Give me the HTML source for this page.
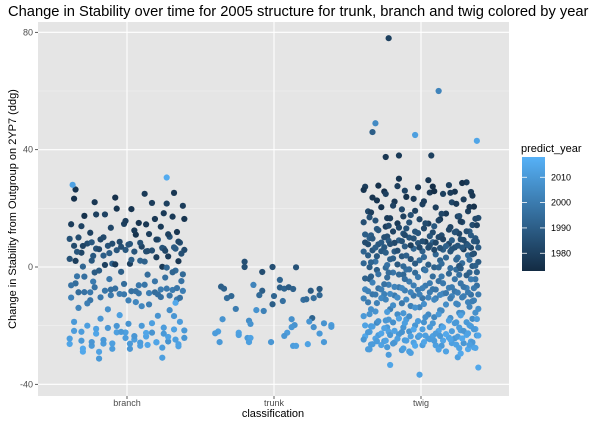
<!DOCTYPE html>
<html><head><meta charset="utf-8"><style>
html,body{margin:0;padding:0;background:#fff;}
svg{display:block;font-family:"Liberation Sans",Arial,sans-serif;}
</style></head><body>
<svg id="chart" width="601" height="424" viewBox="0 0 601 424">
<text x="8" y="16" font-size="14.7" fill="#000">Change in Stability over time for 2005 structure for trunk, branch and twig colored by year</text>
<rect x="38" y="22" width="471" height="374" fill="#e5e5e5"/>
<g id="grid"></g>
<g id="pts"></g>
<g id="axes"></g>
<text x="0" y="0" transform="translate(16,209) rotate(-90)" text-anchor="middle" font-size="11" fill="#000">Change in Stability from Outgroup on 2YP7 (ddg)</text>
<text x="273" y="417" text-anchor="middle" font-size="11" fill="#000">classification</text>
<g id="legend">
<text x="521" y="152" font-size="11" fill="#000">predict_year</text>
<defs><linearGradient id="cb" x1="0" y1="1" x2="0" y2="0"><stop offset="0" stop-color="#132B43"/><stop offset="1" stop-color="#56B1F7"/></linearGradient></defs>
<rect x="522" y="157" width="23" height="114" fill="url(#cb)"/>
</g>
</svg>
<script>
const categories = ["branch","trunk","twig"];
const yTicks = [-40,0,40,80];
const yMinor = [-20,20,60];
const legendYears = [1980,1990,2000,2010];
const yearMin = 1973, yearMax = 2018;
const jitter = [-0.35,0.12,-0.08,0.27,-0.22,0.38,0.03,-0.15,0.31,-0.29,0.19,-0.02,0.08,-0.38,0.23,-0.11,0.34,-0.25,0.06,0.15,-0.33,0.29,-0.05,0.21,-0.18,0.36,0.01,-0.27,0.10,-0.13,0.32,-0.36,0.17,-0.07,0.25,-0.21,0.39,-0.01,0.13,-0.31,0.05,0.28,-0.16,-0.39,0.20,0.09,-0.24,0.35,-0.10,0.02,-0.30,0.24,-0.19,0.33,-0.04,0.14,-0.34,0.26,-0.12,0.37,-0.23];

const branchY = [26,25,24,22,22,21,20,18,17,17,16,15,15,15,14,13,12,12,11,11,
10,10,9,9,9,8,8,8,7,7,7,7,6,6,6,6,6,6,5,5,5,4,4,3,3,2,2,2,1,1,0,0,-1,-1,-2,
-3,-3,-4,-4,-5,-5,-6,-6,-7,-7,-7,-8,-8,-8,-8,-9,-9,-9,-9,-10,-10,-10,-11,-11,-12,-13,-14,-15,-16,-17,
-18,-19,-19,-20,-20,-21,-21,-22,-22,-22,-23,-23,-24,-24,-24,-25,-25,-25,-26,-26,-26,-27,-27,-27,-28,-28,-29,-31,-31,-12];
const branchYear = [1976,1978,1975,1980,1977,1979,1976,1981,1978,1975,1977,1980,1976,1979,1978,1982,1977,1980,1976,1979,
1984,1986,1983,1988,1982,1985,1987,1984,1981,1986,1989,1983,1985,1987,1984,1986,1983,1988,1985,1982,1987,1978,1990,1986,1979,1992,1988,1977,1991,1980,1993,1978,1989,1994,1990,
1995,1998,1996,1999,1997,2000,1995,1998,1996,1999,1997,2001,1996,1998,2000,1997,1995,1999,1998,2002,1996,1999,2000,1998,2004,2001,2003,2006,2012,2008,
2009,2011,2008,2012,2010,2009,2013,2011,2008,2012,2010,2014,2009,2011,2013,2010,2012,2008,2011,2014,2009,2012,2010,2013,2011,2009,2015,2012,2010,2015];
const branchY2 = [25.5,23.5,21.5,19.5,18.5,17.5,16.5,15.5,14.5,13.5,12.5,11.5,
10.5,9.5,9.5,8.5,8.5,8.5,7.5,7.5,7.5,6.5,6.5,6.5,6.5,5.5,5.5,5.5,4.5,4.5,
3.5,2.5,1.5,0.5,-0.5,-1.5,-2.5,2.5,0.5,-1.5,
-3.5,-4.5,-5.5,-6.5,-6.5,-7.5,-7.5,-7.5,-8.5,-8.5,-8.5,-8.5,-9.5,-9.5,-9.5,-10.5,-10.5,-11.5,-12.5,-13.5,-14.5,-16.5,
-18.5,-19.5,-20.5,-20.5,-21.5,-21.5,-22.5,-22.5,-22.5,-23.5,-23.5,-24.5,-24.5,-25.5,-25.5,-25.5,-26.5,-26.5,-26.5,-27.5,-27.5,-28.5,-24.5,-22.5,-26.5];
const branchYear2 = [1977,1975,1979,1976,1978,1980,1976,1979,1977,1981,1978,1980,
1983,1986,1980,1985,1988,1982,1984,1987,1981,1986,1983,1989,1985,1984,1987,1982,1990,1985,
1988,1979,1991,1978,1993,1989,1994,1990,1980,1992,
1996,1998,1995,1999,1997,2000,1996,1998,1999,1997,2001,1995,1998,2000,1996,1999,1997,2002,2001,2004,2007,2009,
2010,2012,2009,2011,2013,2010,2012,2014,2011,2009,2013,2010,2012,2014,2011,2009,2013,2012,2010,2015,2011,2013,2012,2010,2014];
const branchOutX = [-0.37,0.27];
const branchOutY = [28,30.5];
const branchOutYear = [2013,2016];

const trunkX = [-0.20,-0.20,-0.01,0.15,-0.08,0.04,-0.36,-0.34,-0.14,0.04,0.07,0.10,0.13,-0.08,-0.10,0.00,-0.32,-0.29,0.06,0.25,0.31,0.31,0.27,0.20,0.22,-0.01,-0.26,-0.12,-0.07,-0.35,-0.17,-0.16,0.12,0.26,0.24,0.34,0.39,0.39,0.27,0.14,0.12,0.09,0.07,0.31,-0.38,-0.40,-0.24,-0.24,-0.18,-0.16,-0.17,-0.37,-0.02,0.13,0.15,0.23,0.34];
const trunkY = [1.8,0,0,-0.1,-1.7,-4.4,-6.7,-7.4,-6.1,-7,-7.4,-6.9,-7.5,-8.1,-9.6,-9.9,-10.6,-9.9,-11.6,-8.1,-7.5,-9.6,-10.6,-11.2,-11,-12.7,-14.3,-14.7,-15,-17.8,-18.3,-19.4,-17.8,-17.4,-18.6,-19.2,-19.8,-20.4,-20.5,-19.8,-20.5,-22.4,-23.5,-22.7,-22,-22.6,-22.4,-23.2,-24.2,-24.2,-25.6,-25.6,-25.6,-26.9,-26.9,-26.3,-25.6];
const trunkYear = [1985,1985,1985,1986,1984,1992,1990,1991,2003,1990,1992,1989,1991,1990,1994,1992,1995,1993,1996,1989,1988,1993,1995,1996,1994,1990,2000,2008,2002,2008,2006,2008,2007,1992,2009,2008,2011,2010,2007,2008,2009,2011,2009,2010,2012,2011,2013,2012,2010,2013,2012,2010,2009,2011,2012,2013,2010];

const twigY = [30,29,28,28,27,27,27,26,26,26,26,25,25,24,23,23,22,22,21,21,20,20,20,
19,19,18,18,17,17,17,16,16,16,15,15,15,15,14,14,14,14,
13,13,13,12,12,12,12,11,11,11,11,10,10,10,10,10,9,9,9,9,9,8,8,8,8,8,8,7,7,7,7,7,6,6,6,6,6,5,5,5,5,
4,4,4,4,3,3,3,3,2,2,2,2,1,1,1,1,0,0,0,0,-1,-1,-1,-1,-2,-2,-2,-3,-3,-3,-3,-4,-4,-4,-5,-5,
-6,-6,-6,-6,-7,-7,-7,-7,-8,-8,-8,-8,-8,-9,-9,-9,-9,-9,-10,-10,-10,-10,-11,-11,-11,-11,-12,-12,-12,-13,-13,-13,-14,-14,-14,-15,-15,
-16,-16,-16,-17,-17,-17,-18,-18,-18,-19,-19,-19,-19,-20,-20,-20,-20,
-21,-21,-21,-21,-22,-22,-22,-22,-22,-23,-23,-23,-23,-23,-24,-24,-24,-24,-24,-25,-25,-25,-25,-25,-26,-26,-26,-26,-26,-27,-27,-27,-27,-28,-28,-28,-29,-29,
-31,-33,-34,-37];
const twigYear = [1976,1978,1975,1980,1977,1974,1979,1976,1981,1978,1975,1977,1980,1976,1979,1978,1982,1977,1975,1980,1976,1979,1983,
1980,1983,1978,1985,1981,1979,1984,1982,1977,1986,1980,1983,1978,1985,1981,1988,1979,1984,
1986,1983,1988,1985,1981,1990,1987,1984,1989,1982,1986,1988,1985,1991,1983,1987,1984,1989,1986,1980,1990,1985,1988,1983,1987,1992,1984,1986,1989,1982,1988,1985,1990,1987,1979,1993,1986,1989,1984,1991,1988,
1992,1988,1995,1990,1993,1986,1996,1991,1989,1994,1992,1997,1990,1995,1988,1993,1996,1991,1994,1989,1997,1993,1990,1995,1998,1992,1994,1999,1991,1996,1993,1998,1995,1990,1997,2000,
1998,2001,1996,2000,1999,2002,1997,2001,2000,1998,2003,1999,2001,1997,2002,2000,2004,1998,2001,1999,2003,2000,2002,1998,2005,2001,1999,2003,2000,2006,2002,2004,2001,2007,2003,2005,2008,
2005,2008,2006,2010,2007,2004,2009,2006,2011,2008,2005,2010,2007,2012,2009,2006,2011,
2011,2009,2013,2010,2012,2014,2008,2011,2013,2010,2012,2009,2014,2011,2013,2010,2012,2015,2009,2011,2013,2010,2012,2014,2011,2009,2013,2012,2010,2014,2011,2013,2012,2010,2015,2011,2013,2012,
2012,2014,2015,2013];
const twigY2 = [29.5,28.5,27.5,26.5,25.5,25.5,24.5,24.5,23.5,22.5,22.5,21.5,20.5,20.5,19.5,
18.5,18.5,17.5,17.5,16.5,16.5,16.5,15.5,15.5,15.5,14.5,14.5,14.5,13.5,
12.5,12.5,12.5,11.5,11.5,11.5,11.5,10.5,10.5,10.5,10.5,9.5,9.5,9.5,9.5,9.5,8.5,8.5,8.5,8.5,8.5,8.5,7.5,7.5,7.5,7.5,7.5,7.5,6.5,6.5,6.5,6.5,6.5,6.5,5.5,5.5,5.5,5.5,4.5,4.5,
3.5,3.5,3.5,2.5,2.5,2.5,1.5,1.5,1.5,0.5,0.5,0.5,0.5,-0.5,-0.5,-0.5,-0.5,-1.5,-1.5,-1.5,-2.5,-2.5,-2.5,-2.5,-3.5,-3.5,-3.5,-4.5,-4.5,-4.5,
-5.5,-5.5,-5.5,-5.5,-6.5,-6.5,-6.5,-6.5,-7.5,-7.5,-7.5,-7.5,-7.5,-8.5,-8.5,-8.5,-8.5,-8.5,-9.5,-9.5,-9.5,-9.5,-9.5,-10.5,-10.5,-10.5,-10.5,-10.5,-11.5,-11.5,-11.5,-11.5,-12.5,-12.5,-12.5,-13.5,-13.5,-13.5,-14.5,-14.5,
-15.5,-15.5,-15.5,-15.5,-16.5,-16.5,-16.5,-16.5,-17.5,-17.5,-17.5,-17.5,-18.5,-18.5,-18.5,-18.5,-19.5,-19.5,-19.5,-19.5,
-20.5,-20.5,-20.5,-20.5,-20.5,-21.5,-21.5,-21.5,-21.5,-21.5,-21.5,-22.5,-22.5,-22.5,-22.5,-22.5,-22.5,-23.5,-23.5,-23.5,-23.5,-23.5,-23.5,-24.5,-24.5,-24.5,-24.5,-24.5,-24.5,-25.5,-25.5,-25.5,-25.5,-25.5,-25.5,-26.5,-26.5,-26.5,-26.5,-26.5,-26.5,-27.5,-27.5,-27.5,-27.5,-28.5,-28.5,-28.5,-29.5,-29.5];
const twigYear2 = [1977,1975,1979,1976,1978,1974,1980,1977,1975,1979,1976,1978,1981,1977,1980,
1982,1979,1984,1980,1983,1978,1985,1981,1986,1979,1983,1980,1984,1982,
1985,1988,1982,1987,1984,1990,1986,1983,1989,1985,1987,1981,1988,1984,1986,1990,1983,1987,1985,1989,1982,1986,1988,1984,1991,1980,1987,1985,1989,1983,1986,1990,1984,1988,1985,1992,1987,1983,1990,1986,
1991,1994,1988,1993,1990,1996,1989,1995,1992,1987,1994,1991,1997,1990,1993,1996,1989,1995,1992,1998,1994,1990,1997,1993,1999,1995,1991,1998,1996,2000,
1997,2000,1999,2002,1998,2001,2000,2003,1999,2002,2001,1998,2004,2000,2002,1999,2003,2001,2005,2000,2002,2004,1999,2003,2001,2006,2002,2000,2004,2003,2001,2005,2007,2002,2004,2006,2003,2008,2005,2007,
2006,2009,2007,2011,2008,2010,2006,2012,2009,2011,2007,2013,2010,2008,2012,2011,2009,2013,2010,2012,
2011,2013,2010,2014,2012,2009,2015,2011,2013,2010,2012,2014,2011,2008,2013,2010,2015,2012,2011,2009,2014,2012,2010,2013,2011,2015,2012,2009,2014,2011,2013,2010,2012,2014,2011,2013,2009,2012,2015,2010,2011,2013,2012,2014,2010,2011,2013,2012,2015,2011];
const twigOutX = [-0.22,0.12,-0.31,-0.33,-0.04,0.38,-0.15,0.07,-0.24];
const twigOutY = [78,60,49,46,45,43,38,38,37.5];
const twigOutYear = [1980,2003,2005,1990,2012,2014,1978,1980,1977];

const NS='http://www.w3.org/2000/svg';
const P={l:38,r:509,t:22,b:396};
function yScale(v){return 267 - v*2.9333;}
function xScale(ci,dx){return 127 + ci*147 + dx*147;}
function yearScale(y){return 271 - (y-yearMin)*(114/(yearMax-yearMin));}
function color(yr){
  let t=Math.max(0,Math.min(1,(yr-yearMin)/(yearMax-yearMin)));
  const a=[0x13,0x2B,0x43],b=[0x56,0xB1,0xF7];
  return 'rgb('+a.map((c,i)=>Math.round(c+(b[i]-c)*t)).join(',')+')';
}
function mk(tag,attrs,parent){const e=document.createElementNS(NS,tag);for(const k in attrs)e.setAttribute(k,attrs[k]);parent.appendChild(e);return e;}
const grid=document.getElementById('grid');
yMinor.forEach(v=>{const l=mk('line',{x1:P.l,x2:P.r,y1:yScale(v),y2:yScale(v),stroke:'#f2f2f2','stroke-width':0.6},grid);

});
yTicks.forEach(v=>{const l=mk('line',{x1:P.l,x2:P.r,y1:yScale(v),y2:yScale(v),stroke:'#fff','stroke-width':1.1},grid);

});
categories.forEach((c,i)=>{const l=mk('line',{x1:xScale(i,0),x2:xScale(i,0),y1:P.t,y2:P.b,stroke:'#fff','stroke-width':1.1},grid);

});
const axes=document.getElementById('axes');
yTicks.forEach(v=>{
  const t=mk('text',{x:33,y:yScale(v)+3,'text-anchor':'end','font-size':9,fill:'#4d4d4d'},axes);t.textContent=v;
  
  
  const k=mk('line',{x1:35,x2:38,y1:yScale(v),y2:yScale(v),stroke:'#333','stroke-width':0.8},axes);
  
  
});
categories.forEach((c,i)=>{
  const t=mk('text',{x:xScale(i,0),y:406,'text-anchor':'middle','font-size':9,fill:'#4d4d4d'},axes);t.textContent=c;
  
  
  const k=mk('line',{x1:xScale(i,0),x2:xScale(i,0),y1:396,y2:399,stroke:'#333','stroke-width':0.8},axes);
  
  
});
const pts=document.getElementById('pts');
function dot(ci,dx,v,yr){
  const c=mk('circle',{cx:xScale(ci,dx),cy:yScale(v),r:3.1,fill:color(yr)},pts);
  
  
}
function jittered(ci,ys,yrs,shift){
  ys.forEach((v,i)=>{
    const dx=jitter[(i*1+shift)%jitter.length];
    const dy=jitter[(i*17+5+shift)%jitter.length]*1.1;
    dot(ci,dx,v+dy,yrs[i]!==undefined?yrs[i]:1995);
  });
}
jittered(0,branchY,branchYear,0);
jittered(0,branchY2,branchYear2,30);
branchOutY.forEach((v,i)=>dot(0,branchOutX[i],v,branchOutYear[i]));
trunkY.forEach((v,i)=>dot(1,trunkX[i],v,trunkYear[i]));
jittered(2,twigY,twigYear,7);
jittered(2,twigY2,twigYear2,40);
twigOutY.forEach((v,i)=>dot(2,twigOutX[i],v,twigOutYear[i]));
const leg=document.getElementById('legend');
legendYears.forEach(yr=>{
  const y=yearScale(yr);
  const a=mk('line',{x1:522,x2:527,y1:y,y2:y,stroke:'#fff','stroke-width':0.8},leg);
  
  
  const b=mk('line',{x1:540,x2:545,y1:y,y2:y,stroke:'#fff','stroke-width':0.8},leg);
  
  
  const t=mk('text',{x:551,y:y+3,'font-size':9,fill:'#000'},leg);t.textContent=yr;
  
  
});
</script>
</body></html>
